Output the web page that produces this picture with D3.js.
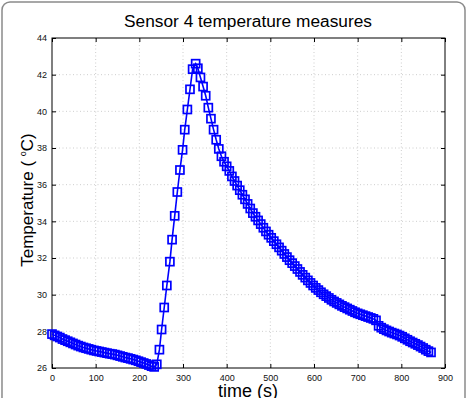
<!DOCTYPE html>
<html><head><meta charset="utf-8">
<script src="https://cdn.jsdelivr.net/npm/d3@7"></script>
<style>body{margin:0;background:#fff;}svg{display:block;}</style>
</head><body>
<svg id="chart" width="470" height="398"></svg>
<script>
const timeS = [0,6,12,18,24,30,36,42,48,54,60,66,72,78,84,90,96,102,108,114,120,126,132,138,144,150,156,162,168,174,180,186,192,198,204,210,216,222,228,234,
240,246,251,257,263,270,275,281,287,293,299,304,310,316,322,329,
334,340,346,352,358,364,370,376,382,388,394,400,406,412,418,424,430,436,442,448,454,460,466,472,478,484,490,496,502,508,514,520,526,532,538,544,550,556,562,568,574,580,586,592,598,604,610,616,622,628,634,640,646,652,658,664,670,676,682,688,694,700,706,712,718,724,730,736,742,748,754,760,766,772,778,784,790,796,802,808,814,820,826,832,838,844,850,856,862,868];
const tempC = [27.85,27.78,27.72,27.66,27.58,27.52,27.46,27.40,27.34,27.28,27.22,27.17,27.12,27.08,27.04,27.00,26.96,26.93,26.90,26.87,26.84,26.81,26.78,26.76,26.73,26.69,26.65,26.61,26.57,26.54,26.50,26.46,26.42,26.37,26.32,26.27,26.22,26.16,26.10,26.06,
26.2,27.0,28.1,29.3,30.5,31.8,33.0,34.3,35.6,36.8,37.9,39.0,40.1,41.2,42.3,42.6,
42.35,41.85,41.35,40.85,40.2,39.6,39.0,38.45,37.95,37.55,37.25,37.0,36.75,36.45,36.2,35.95,35.7,35.45,35.2,34.95,34.7,34.45,34.25,34.05,33.85,33.65,33.45,33.27,33.1,32.92,32.75,32.58,32.4,32.22,32.05,31.88,31.72,31.56,31.4,31.24,31.08,30.93,30.78,30.64,30.5,30.37,30.25,30.13,30.02,29.92,29.82,29.72,29.63,29.55,29.47,29.39,29.32,29.25,29.18,29.11,29.04,28.98,28.93,28.88,28.83,28.78,28.73,28.68,28.6,28.3,28.2,28.12,28.05,27.99,27.93,27.88,27.83,27.77,27.7,27.62,27.54,27.46,27.39,27.32,27.25,27.17,27.09,27.0,26.92,26.85];
const xTicks = [0,100,200,300,400,500,600,700,800,900];
const yTicks = [26,28,30,32,34,36,38,40,42,44];
const titleText = "Sensor 4 temperature measures";
const xLabelText = "time (s)";

const svg = d3.select("#chart");
const L = 52, R = 445, T = 38, B = 368;
const x = d3.scaleLinear().domain([0, 900]).range([L, R]);
const y = d3.scaleLinear().domain([26, 44]).range([B, T]);
const font = "'Liberation Sans', Arial, Helvetica, sans-serif";

// figure border
svg.append("rect").attr("x", 2).attr("y", 2).attr("width", 463).attr("height", 420)
  .attr("rx", 8).attr("fill", "#fff").attr("stroke", "#8a8a8a").attr("stroke-width", 1.5);

// grid
const grid = svg.append("g").attr("stroke", "#c0c0c0").attr("stroke-width", 0.8).attr("stroke-dasharray", "1,2.5");
grid.selectAll("line.gx").data(xTicks.slice(1, -1)).enter().append("line")
  .attr("x1", d => x(d)).attr("x2", d => x(d)).attr("y1", T).attr("y2", B);
grid.selectAll("line.gy").data(yTicks.slice(1, -1)).enter().append("line")
  .attr("y1", d => y(d)).attr("y2", d => y(d)).attr("x1", L).attr("x2", R);

// axes (ticks inward on all sides)
const tl = 4;
const axB = d3.axisBottom(x).tickValues(xTicks).tickSize(-tl).tickPadding(7).tickFormat(d3.format("d"));
const axT = d3.axisTop(x).tickValues(xTicks).tickSize(-tl).tickFormat("");
const axLft = d3.axisLeft(y).tickValues(yTicks).tickSize(-tl).tickPadding(5).tickFormat(d3.format("d"));
const axRgt = d3.axisRight(y).tickValues(yTicks).tickSize(-tl).tickFormat("");
function styleAx(g){
  g.select(".domain").remove();
  g.selectAll(".tick line").attr("stroke", "#000").attr("stroke-width", 1);
  g.selectAll(".tick text").attr("fill", "#111").style("font-family", font).style("font-size", "9px");
}
svg.append("g").attr("transform", `translate(0,${B})`).call(axB).call(styleAx);
svg.append("g").attr("transform", `translate(0,${T})`).call(axT).call(styleAx);
svg.append("g").attr("transform", `translate(${L},0)`).call(axLft).call(styleAx);
svg.append("g").attr("transform", `translate(${R},0)`).call(axRgt).call(styleAx);
svg.append("rect").attr("x", L).attr("y", T).attr("width", R - L).attr("height", B - T)
  .attr("fill", "none").attr("stroke", "#000").attr("stroke-width", 1);

// data
const pts = timeS.map((t, i) => [t, tempC[i]]);
svg.append("path").datum(pts)
  .attr("d", d3.line().x(d => x(d[0])).y(d => y(d[1])))
  .attr("fill", "none").attr("stroke", "#0000ff").attr("stroke-width", 1.6);
const ms = 8;
svg.append("g").selectAll("rect").data(pts).enter().append("rect")
  .attr("x", d => x(d[0]) - ms / 2).attr("y", d => y(d[1]) - ms / 2)
  .attr("width", ms).attr("height", ms)
  .attr("fill", "none").attr("stroke", "#0000ff").attr("stroke-width", 1.7);

// title and labels
svg.append("text").attr("x", 248).attr("y", 27).attr("text-anchor", "middle")
  .style("font-family", font).style("font-size", "17.3px").attr("fill", "#000").text(titleText);
svg.append("text").attr("x", 248).attr("y", 397).attr("text-anchor", "middle")
  .style("font-family", font).style("font-size", "18px").attr("fill", "#000").text(xLabelText);
const yl = svg.append("text").attr("transform", "translate(33,200) rotate(-90)").attr("text-anchor", "middle")
  .style("font-family", font).style("font-size", "17px").attr("fill", "#000");
yl.append("tspan").text("Temperature ( ");
yl.append("tspan").attr("dy", -7).style("font-size", "9px").text("o");
yl.append("tspan").attr("dy", 7).text("C)");
</script>
</body></html>
